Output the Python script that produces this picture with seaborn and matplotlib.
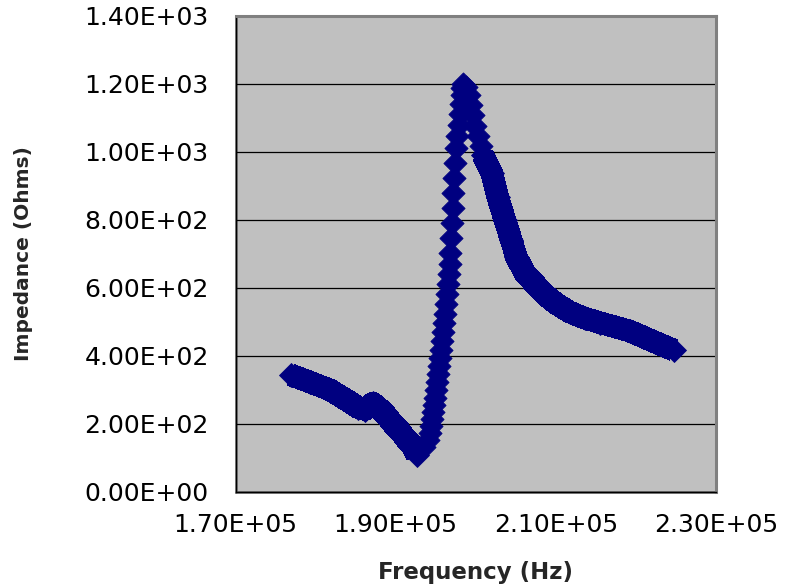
import matplotlib
matplotlib.use("Agg")
import matplotlib.pyplot as plt
from matplotlib.ticker import FuncFormatter, FixedLocator
import seaborn as sns

# Impedance sweep, kept as three runs: the slow approach below resonance,
# the steep climb through resonance (sparse points), and the fall-off above it.
freq_low = [176925, 179295, 181790, 183040, 184290, 185284, 186158, 187156,
            188030, 188903, 189652, 190525, 191398, 192022, 192645]
imp_low = [343, 322, 299, 281, 263, 247, 241, 260,
           243, 222, 199, 178, 151.5, 137, 107]

freq_rise = [193519, 194018, 194268, 194455, 194580, 194705, 194829, 194892,
             195016, 195141, 195266, 195391, 195516, 195640, 195765, 195890,
             196015, 196140, 196264, 196389, 196514, 196639, 196764, 196826,
             196951, 197075, 197138, 197200, 197325, 197387, 197512, 197699,
             197887, 198074, 198199, 198261, 198323, 198448, 198760, 199134,
             199384, 199633, 199883, 200257, 200631]
imp_rise = [130.9, 151.5, 172.1, 192.7, 213.3, 233.9, 254.5, 275.1,
            298.6, 322.1, 345.7, 369.2, 392.8, 416.3, 442.8, 469.2,
            495.7, 522.2, 551.6, 581.0, 610.5, 639.9, 669.3, 701.7,
            745.8, 789.9, 834.1, 878.2, 922.3, 966.4, 1010.6, 1045.9,
            1078.3, 1110.6, 1140.0, 1166.5, 1187.1, 1198.9, 1190.0, 1166.5,
            1137.0, 1108.0, 1075.0, 1046.0, 1016.5]

freq_fall = [200881, 202004, 202753, 203626, 204437, 205061, 206122, 207618,
             208866, 210114, 211736, 213607, 215479, 219223, 222340, 224710]
imp_fall = [990, 937, 866.4, 798.8, 739.9, 690, 642.8, 604.6,
            575, 551.6, 528, 510, 497, 472.2, 440, 416]

x_ticks = [170000, 190000, 210000, 230000]
y_ticks = [0, 200, 400, 600, 800, 1000, 1200, 1400]

NAVY = "#000080"
PLOT_BG = "#C0C0C0"
FRAME = "#808080"

sns.set_style("white")
plt.rcParams["font.family"] = ["DejaVu Sans"]

fig = plt.figure(figsize=(7.89, 5.85), dpi=100)
ax = fig.add_axes([0.2985, 0.1598, 0.6090, 0.8134])
ax.set_facecolor(PLOT_BG)
ax.patch.set_edgecolor(FRAME)
ax.patch.set_linewidth(2.0)
ax.set_axisbelow(True)

# continuous parts of the sweep: dense samples merge into a solid band
for fx, fy in ((freq_low, imp_low), (freq_fall, imp_fall)):
    sns.lineplot(x=fx, y=fy, sort=False, estimator=None, ax=ax,
                 color=NAVY, linewidth=15.5, solid_joinstyle="round",
                 solid_capstyle="butt", marker="D", markersize=11.8,
                 markeredgewidth=0.6, markeredgecolor=NAVY,
                 markerfacecolor=NAVY, antialiased=False, zorder=3)

# resonance climb: individual diamond markers
sns.scatterplot(x=freq_rise, y=imp_rise, ax=ax, marker="D", s=139,
                color=NAVY, edgecolor=NAVY, linewidth=0.6,
                antialiased=False, zorder=4)

ax.set_xlim(170000, 230000)
ax.set_ylim(0, 1400)
ax.xaxis.set_major_locator(FixedLocator(x_ticks))
ax.yaxis.set_major_locator(FixedLocator(y_ticks))
sci = FuncFormatter(lambda v, _: f"{v:.2E}")
ax.xaxis.set_major_formatter(sci)
ax.yaxis.set_major_formatter(sci)

ax.grid(axis="y", color="black", linewidth=0.9)
ax.grid(axis="x", visible=False)

for side in ("top", "right"):
    ax.spines[side].set_color(FRAME)
    ax.spines[side].set_linewidth(2.2)
for side in ("left", "bottom"):
    ax.spines[side].set_color("black")
    ax.spines[side].set_linewidth(1.0)

ax.tick_params(axis="y", direction="out", length=5.8, width=0.9,
               color="black", pad=13.5, labelsize=18, labelcolor="black")
ax.tick_params(axis="x", direction="out", length=5.0, width=0.9,
               color="black", pad=10.5, labelsize=18, labelcolor="black")

ax.set_xlabel("Frequency (Hz)", fontsize=16.5, fontweight="bold")
ax.set_ylabel("Impedance (Ohms)", fontsize=14.5, fontweight="bold")
ax.xaxis.set_label_coords(0.5, -0.147)
ax.yaxis.set_label_coords(-0.4214, 0.5)

fig.savefig("out.png", dpi=100, facecolor="white")
